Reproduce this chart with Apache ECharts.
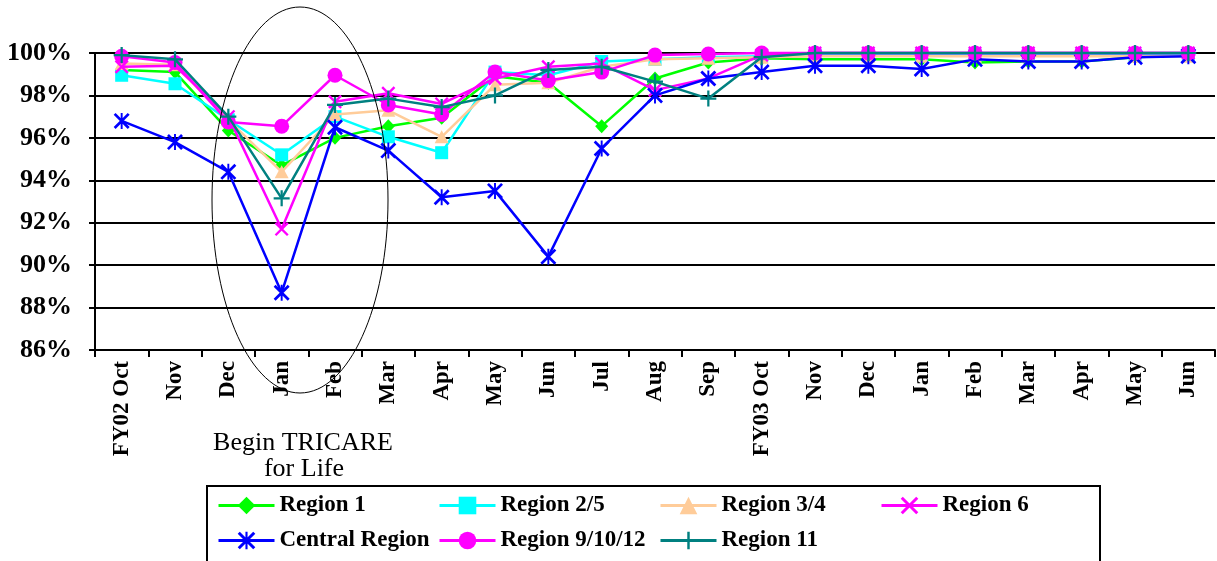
<!DOCTYPE html>
<html>
<head>
<meta charset="utf-8">
<script src="https://cdn.jsdelivr.net/npm/echarts@6/dist/echarts.min.js"></script>
<style>
html,body{margin:0;padding:0;background:#fff;}
#chart{width:1217px;height:561px;}
</style>
</head>
<body>
<div id="chart"></div>
<script>
var categories = ['FY02 Oct','Nov','Dec','Jan','Feb','Mar','Apr','May','Jun','Jul','Aug','Sep','FY03 Oct','Nov','Dec','Jan','Feb','Mar','Apr','May','Jun'];
var yTicks = [86, 88, 90, 92, 94, 96, 98, 100];

var region1 = [99.2, 99.1, 96.35, 94.7, 96.0, 96.55, 96.95, 98.9, 98.6, 96.55, 98.8, 99.55, 99.75, 99.7, 99.7, 99.7, 99.55, 99.6, 99.6, 99.8, 99.9];
var region25 = [98.95, 98.55, 96.85, 95.2, 97.0, 96.05, 95.3, 99.1, 98.95, 99.6, 99.7, 99.8, 99.85, 99.9, 99.9, 99.9, 99.9, 99.9, 99.9, 99.9, 99.9];
var region34 = [99.5, 99.45, 96.85, 94.4, 97.1, 97.3, 96.05, 98.5, 98.6, 99.35, 99.7, 99.75, 99.8, 99.85, 99.85, 99.85, 99.85, 99.85, 99.85, 99.85, 99.85];
var region6 = [99.35, 99.4, 97.0, 91.7, 97.7, 98.1, 97.6, 98.8, 99.35, 99.5, 98.25, 98.8, 99.9, 100, 100, 100, 100, 100, 100, 100, 100];
var central = [96.8, 95.8, 94.4, 88.7, 96.5, 95.4, 93.2, 93.5, 90.4, 95.5, 98.0, 98.8, 99.1, 99.4, 99.4, 99.25, 99.7, 99.6, 99.6, 99.8, 99.85];
var region91012 = [99.85, 99.55, 96.75, 96.55, 98.95, 97.55, 97.1, 99.1, 98.7, 99.1, 99.9, 99.95, 100, 100, 100, 100, 100, 100, 100, 100, 100];
var region11 = [99.9, 99.7, 97.0, 93.15, 97.55, 97.85, 97.45, 98.0, 99.2, 99.35, 98.65, 97.85, 99.8, 100, 100, 100, 100, 100, 100, 100, 100];

var seriesNames = ['Region 1','Region 2/5','Region 3/4','Region 6','Central Region','Region 9/10/12','Region 11'];
var seriesData = [region1, region25, region34, region6, central, region91012, region11];
var seriesColors = ['#00FF00','#00FFFF','#FFCC99','#FF00FF','#0000FF','#FF00FF','#008080'];
var X_PATH = 'path://M0,1.2 L1.2,0 L10,8.8 L8.8,10 Z M8.8,0 L10,1.2 L1.2,10 L0,8.8 Z';
var STAR_PATH = 'path://M0,1.2 L1.2,0 L10,8.8 L8.8,10 Z M8.8,0 L10,1.2 L1.2,10 L0,8.8 Z M4.4,0 L5.6,0 L5.6,10 L4.4,10 Z';
var PLUS_PATH = 'path://M4.3,0 L5.7,0 L5.7,10 L4.3,10 Z M0,4.3 L10,4.3 L10,5.7 L0,5.7 Z';
var seriesSymbols = ['diamond','rect','triangle', X_PATH, STAR_PATH, 'circle', PLUS_PATH];
var seriesSymbolSizes = [[13,14],13,[14,13],14,16,15,16];

var FONT = '"Liberation Serif", "Times New Roman", serif';

var chart = echarts.init(document.getElementById('chart'), null, {renderer:'canvas'});

var series = seriesNames.map(function(n, i){
  return {
    name: n,
    type: 'line',
    data: seriesData[i],
    symbol: seriesSymbols[i],
    symbolSize: seriesSymbolSizes[i],
    showAllSymbol: true,
    clip: false,
    lineStyle: {color: seriesColors[i], width: 2.5},
    itemStyle: {color: seriesColors[i], borderWidth: 0},
    emphasis: {disabled: true},
    animation: false,
    z: 3 + i
  };
});

var legendPos = [[217,494],[438,494],[659,494],[880,494],[217,529],[438,529],[659,529]];
var legends = seriesNames.map(function(n, i){
  return {
    data: [n],
    left: legendPos[i][0],
    top: legendPos[i][1],
    padding: 0,
    itemWidth: 56,
    itemHeight: 22,
    itemGap: 0,
    selectedMode: false,
    lineStyle: {width: 3},
    textStyle: {fontFamily: FONT, fontWeight: 'bold', fontSize: 23, color: '#000', padding: [0, 0, 0, 0]}
  };
});

chart.setOption({
  animation: false,
  backgroundColor: '#fff',
  grid: {left: 95, right: 2, top: 53, bottom: 211, containLabel: false},
  legend: legends,
  xAxis: {
    type: 'category',
    data: categories,
    boundaryGap: true,
    axisLine: {lineStyle: {color: '#000', width: 2}},
    axisTick: {show: true, length: 7, lineStyle: {color: '#000', width: 2}, alignWithLabel: false},
    axisLabel: {
      rotate: 90, interval: 0, margin: 11,
      fontFamily: FONT, fontWeight: 'bold', fontSize: 23, color: '#000'
    },
    splitLine: {show: false}
  },
  yAxis: {
    type: 'value',
    min: yTicks[0],
    max: yTicks[yTicks.length - 1],
    interval: 2,
    axisLine: {show: true, lineStyle: {color: '#000', width: 2}},
    axisTick: {show: true, length: 6, lineStyle: {color: '#000', width: 2}},
    axisLabel: {
      formatter: '{value}%', margin: 23,
      fontFamily: FONT, fontWeight: 'bold', fontSize: 26, color: '#000'
    },
    splitLine: {show: true, lineStyle: {color: '#000', width: 2}}
  },
  graphic: [
    {type: 'ellipse', shape: {cx: 300, cy: 200, rx: 88, ry: 193}, style: {fill: 'none', stroke: '#000', lineWidth: 1}, z: 100, silent: true},
    {type: 'text', x: 303, y: 443, style: {text: 'Begin TRICARE', fontFamily: FONT, fontSize: 26, fill: '#000', align: 'center', verticalAlign: 'middle'}, z: 100},
    {type: 'text', x: 304, y: 469, style: {text: 'for Life', fontFamily: FONT, fontSize: 26, fill: '#000', align: 'center', verticalAlign: 'middle'}, z: 100},
    {type: 'rect', shape: {x: 207, y: 486, width: 893, height: 80}, style: {fill: 'none', stroke: '#000', lineWidth: 2}, z: 100, silent: true}
  ],
  series: series
});
</script>
</body>
</html>
